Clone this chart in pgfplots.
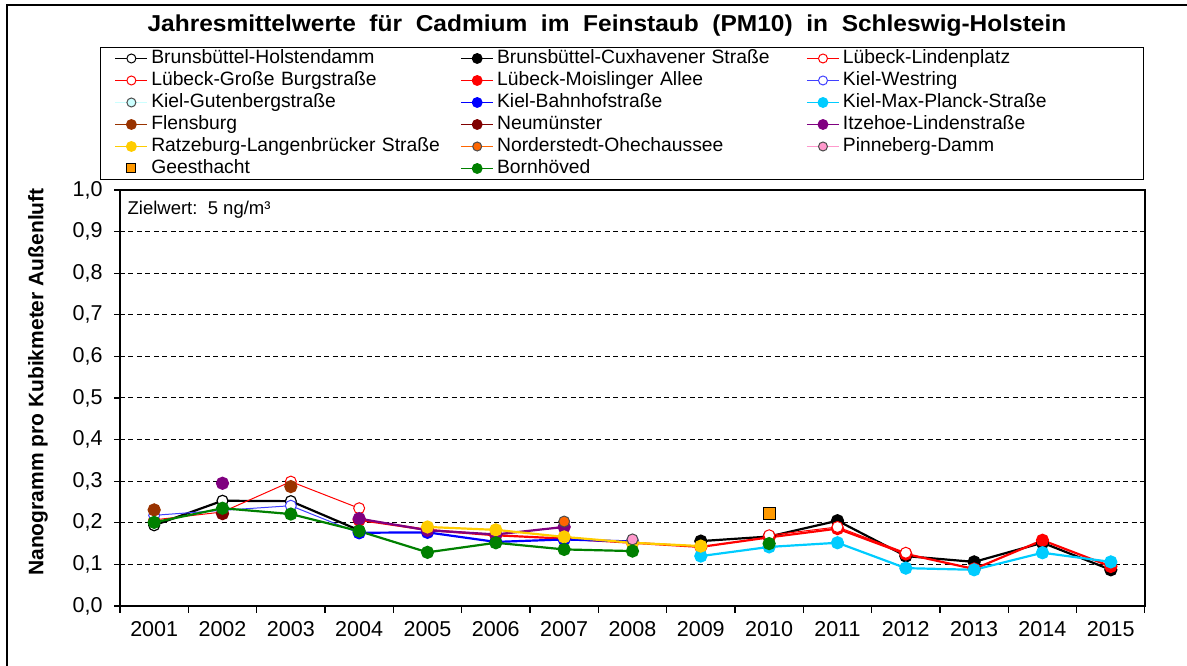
\documentclass[border=0pt]{standalone}
\usepackage{fontspec}
\setmainfont{Liberation Sans}
\usepackage{graphicx}
\usepackage{pgfplots}
\pgfplotsset{compat=1.18}
\definecolor{cblue}{RGB}{0,0,255}
\definecolor{cwest}{RGB}{64,64,255}
\definecolor{ccyan}{RGB}{0,204,255}
\definecolor{clcyan}{RGB}{204,255,255}
\definecolor{cbrown}{RGB}{153,51,0}
\definecolor{cdred}{RGB}{128,0,0}
\definecolor{cpurple}{RGB}{128,0,128}
\definecolor{cyellow}{RGB}{255,204,0}
\definecolor{corange}{RGB}{255,102,0}
\definecolor{cpink}{RGB}{255,153,204}
\definecolor{cgeest}{RGB}{255,153,0}
\definecolor{cgreen}{RGB}{0,128,0}
\pgfplotsset{singlemark/.style={legend image code/.code={\draw[##1] plot coordinates {(16pt,0pt)};}}}
\pgfplotsset{linemark/.style={legend image code/.code={\draw[mark repeat=2,mark phase=2,##1] plot coordinates {(0pt,0pt) (16pt,0pt) (32pt,0pt)};}}}
\begin{document}
\begin{tikzpicture}
\useasboundingbox (-120pt,-60pt) rectangle (1067pt,606pt);
\draw[line width=2pt] (-113pt,-60pt) -- (-113pt,601pt) -- (1067pt,601pt);
\node[font=\fontsize{23}{27}\selectfont\bfseries] at (487pt,580pt) {\scalebox{1.065}[1]{Jahresmittelwerte\ \ für\ \ Cadmium\ \ im\ \ Feinstaub\ \ (PM10)\ \ in\ \ Schleswig-Holstein}};
\node[rotate=90,font=\fontsize{21}{25}\selectfont\bfseries] at (-82pt,224pt) {Nanogramm pro Kubikmeter Außenluft};
\begin{axis}[
  at={(0pt,0pt)}, anchor=south west,
  width=1025pt, height=416pt, scale only axis,
  xmin=2000.5, xmax=2015.5, ymin=0, ymax=1,
  xtick={2001,...,2015},
  minor xtick={2000.5,2001.5,...,2015.5},
  ytick={0,0.1,...,1.0},
  tick align=outside, tick pos=left,
  major tick length=6pt, minor tick length=7pt,
  major x tick style={draw=none},
  tick style={black, line width=1.2pt},
  axis line style={line width=1.5pt},
  ymajorgrids,
  major grid style={black, line width=1pt, dash pattern=on 5pt off 3.5pt},
  x tick label style={/pgf/number format/1000 sep={}, font=\fontsize{21.5}{25}\selectfont, yshift=-6pt},
  y tick label style={/pgf/number format/.cd, fixed, fixed zerofill, precision=1, use comma, /tikz/.cd, font=\fontsize{21.5}{25}\selectfont, xshift=-8pt},
  /pgf/number format/assume math mode=true,
  unbounded coords=jump,
  mark size=5.5pt,
  legend columns=3,
  legend cell align=left,
  linemark,
  legend style={at={(-0.01951,1.34375)}, anchor=north west, draw=black, line width=1pt,
    inner xsep=14pt, inner ysep=0pt, column sep=0pt, row sep=0pt,
    font=\fontsize{19.3}{22}\selectfont,
    nodes={text width=306pt, align=left, inner xsep=3pt, inner ysep=2pt, text height=14pt, text depth=4pt},
    /tikz/column 6/.style={nodes={text width=284pt}}},
]
% legend entries
\addlegendimage{black, line width=1.8pt, mark=*, mark size=4.5pt, mark options={fill=white, line width=1pt}}
\addlegendentry{Brunsbüttel-Holstendamm}
\addlegendimage{black, line width=1.8pt, mark=*, mark size=4.5pt}
\addlegendentry{Brunsbüttel-Cuxhavener Straße}
\addlegendimage{red, line width=1pt, mark=*, mark size=4.5pt, mark options={fill=white}}
\addlegendentry{Lübeck-Lindenplatz}
\addlegendimage{red, line width=1.5pt, mark=*, mark size=4.5pt, mark options={fill=white, line width=1pt}}
\addlegendentry{Lübeck-Große Burgstraße}
\addlegendimage{red, line width=1.8pt, mark=*, mark size=4.5pt}
\addlegendentry{Lübeck-Moislinger Allee}
\addlegendimage{cwest, line width=1pt, mark=*, mark size=4.5pt, mark options={fill=white}}
\addlegendentry{Kiel-Westring}
\addlegendimage{clcyan, line width=1.5pt, mark=*, mark size=4.5pt, mark options={fill=clcyan, draw=black!70, line width=1pt}}
\addlegendentry{Kiel-Gutenbergstraße}
\addlegendimage{cblue, line width=1.8pt, mark=*, mark size=4.5pt}
\addlegendentry{Kiel-Bahnhofstraße}
\addlegendimage{ccyan, line width=1.8pt, mark=*, mark size=4.5pt}
\addlegendentry{Kiel-Max-Planck-Straße}
\addlegendimage{cbrown, line width=1.8pt, mark=*, mark size=4.5pt}
\addlegendentry{Flensburg}
\addlegendimage{cdred, line width=1.8pt, mark=*, mark size=4.5pt}
\addlegendentry{Neumünster}
\addlegendimage{cpurple, line width=1.8pt, mark=*, mark size=4.5pt}
\addlegendentry{Itzehoe-Lindenstraße}
\addlegendimage{cyellow, line width=1.8pt, mark=*, mark size=4.5pt}
\addlegendentry{Ratzeburg-Langenbrücker Straße}
\addlegendimage{corange, line width=1.8pt, mark=*, mark size=4.5pt, mark options={fill=corange, draw=black!70, line width=1pt}}
\addlegendentry{Norderstedt-Ohechaussee}
\addlegendimage{cpink, line width=1.5pt, mark=*, mark size=4.5pt, mark options={fill=cpink, draw=black!70, line width=1pt}}
\addlegendentry{Pinneberg-Damm}
\addlegendimage{only marks, mark=square*, mark size=4.5pt, mark options={fill=cgeest, draw=black, line width=1pt}, singlemark}
\addlegendentry{Geesthacht}
\addlegendimage{cgreen, line width=1.8pt, mark=*, mark size=4.5pt}
\addlegendentry{Bornhöved}

% data
% Brunsbuettel-Holstendamm
\addplot[forget plot, black, line width=2.2pt, mark=*, mark options={fill=white, line width=1.2pt}] coordinates {(2001,0.194) (2002,0.253) (2003,0.252) (2004,0.182)};
% Brunsbuettel-Cuxhavener Strasse
\addplot[forget plot, black, line width=2.2pt, mark=*] coordinates {(2009,0.156) (2010,0.167) (2011,0.205) (2012,0.120) (2013,0.106) (2014,0.152) (2015,0.087)};
% Luebeck-Grosse Burgstrasse
\addplot[forget plot, red, line width=1pt, mark=*, mark options={fill=white, line width=1pt}] coordinates {(2001,0.207) (2002,0.226) (2003,0.299) (2004,0.235)};
% Luebeck-Moislinger Allee
\addplot[forget plot, red, line width=2.2pt, mark=*] coordinates {(2004,0.207) (2005,0.183) (2006,0.170) (2007,0.162) (2008,0.152) (2009,0.142) (2010,0.165) (2011,0.186) (2012,0.125) (2013,0.089) (2014,0.158) (2015,0.095)};
% Luebeck-Lindenplatz
\addplot[forget plot, red, line width=1pt, mark=*, mark options={fill=white, line width=1pt}] coordinates {(2010,0.170) (2011,0.190) (2012,0.128)};
% Kiel-Westring
\addplot[forget plot, cwest, line width=1pt, mark=*, mark options={fill=white, line width=1pt}] coordinates {(2001,0.218) (2002,0.230) (2003,0.241) (2004,0.175)};
% Kiel-Bahnhofstrasse
\addplot[forget plot, cblue, line width=2.2pt, mark=*] coordinates {(2004,0.176) (2005,0.177) (2006,0.154) (2007,0.160) (2008,0.155)};
% Kiel-Max-Planck-Strasse
\addplot[forget plot, ccyan, line width=2.2pt, mark=*] coordinates {(2009,0.120) (2010,0.142) (2011,0.152) (2012,0.091) (2013,0.087) (2014,0.128) (2015,0.106)};
% Flensburg
\addplot[forget plot, cbrown, line width=2.2pt, mark=*] coordinates {(2001,0.231) (2002,nan) (2003,0.287)};
% Neumuenster
\addplot[forget plot, cdred, line width=2.2pt, mark=*] coordinates {(2002,0.222)};
% Itzehoe-Lindenstrasse
\addplot[forget plot, cpurple, line width=2.2pt, mark=*] coordinates {(2002,0.295) (2003,nan) (2004,0.210) (2005,0.182) (2006,0.172) (2007,0.190)};
% Ratzeburg
\addplot[forget plot, cyellow, line width=2.2pt, mark=*] coordinates {(2005,0.190) (2006,0.183) (2007,0.166) (2008,0.152) (2009,0.144)};
% Norderstedt
\addplot[forget plot, corange, line width=2.2pt, mark=*, mark options={fill=corange, draw=black!70, line width=1pt}] coordinates {(2007,0.203)};
% Pinneberg
\addplot[forget plot, cpink, line width=2.2pt, mark=*, mark options={fill=cpink, draw=black!70, line width=1pt}] coordinates {(2008,0.160)};
% Geesthacht
\addplot[forget plot, only marks, mark=square*, mark size=6pt, mark options={fill=cgeest, draw=black, line width=1pt}] coordinates {(2010,0.222)};
% Bornhoeved
\addplot[forget plot, cgreen, line width=2.2pt, mark=*] coordinates {(2001,0.201) (2002,0.235) (2003,0.221) (2004,0.180) (2005,0.129) (2006,0.152) (2007,0.136) (2008,0.132) (2009,nan) (2010,0.150)};
\node[anchor=west, font=\fontsize{18.5}{22}\selectfont] at (axis description cs:0.004,0.952) {Zielwert:\ \ 5 ng/m³};
\end{axis}
\end{tikzpicture}
\end{document}
